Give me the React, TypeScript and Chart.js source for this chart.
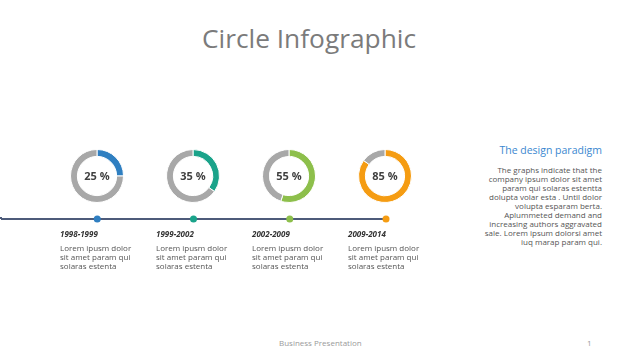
import React, { useEffect, useRef } from "react";
import { Chart, registerables } from "chart.js";

Chart.register(...registerables);

const periods = ["1998-1999", "1999-2002", "2002-2009", "2009-2014"];
const percents = [25, 35, 55, 85];
const descriptions = [
  ["Lorem ipusm dolor", "sit amet param qui", "solaras estenta"],
  ["Lorem ipusm dolor", "sit amet param qui", "solaras estenta"],
  ["Lorem ipusm dolor", "sit amet param qui", "solaras estenta"],
  ["Lorem ipusm dolor", "sit amet param qui", "solaras estenta"],
];
const timelineLabels = ["", ...periods];
const timelineValues = [1, 1, 1, 1, 1];
const sideTitle = "The design paradigm";
const sideLines = [
  "The graphs indicate that the",
  "company ipsum dolor sit amet",
  "param qui solaras estentta",
  "dolupta volar esta . Until dolor",
  "volupta esparam berta.",
  "Aplummeted demand and",
  "increasing authors aggravated",
  "sale. Lorem ipsum dolorsi amet",
  "iuq marap param qui.",
];

const accentColors = ["#2f7fc1", "#1aa38a", "#8dbf4b", "#f59c12"];
const restColor = "#a8a8a8";
const FONT = "'Open Sans', 'DejaVu Sans', sans-serif";

const centerTextPlugin = {
  id: "centerText",
  afterDraw(chart: any) {
    const meta = chart.getDatasetMeta(0);
    const arc = meta.data[0];
    if (!arc) return;
    const { x, y } = arc;
    const v = chart.data.datasets[0].data[0];
    const ctx = chart.ctx;
    ctx.save();
    ctx.font = `bold 11px ${FONT}`;
    ctx.fillStyle = "#404040";
    ctx.textAlign = "center";
    ctx.textBaseline = "middle";
    ctx.fillText(`${v} %`, x, y + 1);
    ctx.restore();
  },
};

function Donut({ value, color, left, top, size }: any) {
  const ref = useRef<HTMLCanvasElement>(null);
  useEffect(() => {
    const chart = new Chart(ref.current!, {
      type: "doughnut",
      data: {
        labels: ["value", "rest"],
        datasets: [
          {
            data: [value, 100 - value],
            backgroundColor: [color, restColor],
            borderWidth: 1,
            borderColor: "#ffffff",
          },
        ],
      },
      options: {
        responsive: false,
        animation: false,
        cutout: "74%",
        layout: { padding: 0 },
        plugins: { legend: { display: false }, tooltip: { enabled: false } },
        events: [],
      },
      plugins: [centerTextPlugin],
    });
    return () => chart.destroy();
  }, [value, color]);
  return (
    <canvas
      ref={ref}
      width={size}
      height={size}
      style={{ position: "absolute", left, top, width: size, height: size }}
    />
  );
}

function Timeline() {
  const ref = useRef<HTMLCanvasElement>(null);
  useEffect(() => {
    const chart = new Chart(ref.current!, {
      type: "line",
      data: {
        labels: timelineLabels,
        datasets: [
          {
            data: timelineValues,
            borderColor: "#4d5b7a",
            borderWidth: 2,
            pointRadius: [0, 3.5, 3.5, 3.5, 3.5],
            pointBackgroundColor: ["#4d5b7a", ...accentColors],
            pointBorderWidth: 0,
            clip: false as any,
          },
        ],
      },
      options: {
        responsive: false,
        animation: false,
        layout: { autoPadding: false, padding: { left: 0, right: 6, top: 0, bottom: 0 } },
        scales: {
          x: { display: false, offset: false },
          y: { display: false, min: 0, max: 2 },
        },
        plugins: { legend: { display: false }, tooltip: { enabled: false } },
        events: [],
      },
    });
    return () => chart.destroy();
  }, []);
  return (
    <canvas
      ref={ref}
      width={391}
      height={20}
      style={{ position: "absolute", left: 1, top: 209, width: 391, height: 20 }}
    />
  );
}

export default function App() {
  const centers = [97, 193, 289, 385];
  const size = 54;
  return (
    <div
      style={{
        position: "fixed",
        left: 0,
        top: 0,
        width: 640,
        height: 360,
        background: "#ffffff",
        fontFamily: FONT,
        overflow: "hidden",
      }}
    >
      <div
        style={{
          position: "absolute",
          left: 0,
          width: 618,
          top: 20,
          textAlign: "center",
          fontSize: 26.3,
          color: "#7b7b7b",
          lineHeight: "36px",
        }}
      >
        Circle Infographic
      </div>

      {percents.map((p, i) => (
        <Donut
          key={i}
          value={p}
          color={accentColors[i]}
          left={centers[i] - size / 2}
          top={149}
          size={size}
        />
      ))}

      <div style={{ position: "absolute", left: 0, top: 217, width: 2, height: 2, background: "#4d5b7a" }} />
      <Timeline />

      {periods.map((p, i) => (
        <div key={p} style={{ position: "absolute", left: centers[i] - 37, top: 228 }}>
          <div
            style={{
              fontSize: 8,
              fontWeight: "bold",
              fontStyle: "italic",
              color: "#333333",
              lineHeight: "12px",
            }}
          >
            {p}
          </div>
          <div style={{ marginTop: 3, fontSize: 8, color: "#555555", lineHeight: "9px" }}>
            {descriptions[i].map((l, j) => (
              <div key={j}>{l}</div>
            ))}
          </div>
        </div>
      ))}

      <div
        style={{
          position: "absolute",
          right: 38,
          top: 142,
          textAlign: "right",
          width: 140,
        }}
      >
        <div style={{ fontSize: 10.5, color: "#3a87d0", lineHeight: "16px" }}>{sideTitle}</div>
        <div style={{ marginTop: 7, fontSize: 8, color: "#555555", lineHeight: "9px" }}>
          {sideLines.map((l, j) => (
            <div key={j}>{l}</div>
          ))}
        </div>
      </div>

      <div
        style={{
          position: "absolute",
          left: 279,
          top: 337,
          fontSize: 8,
          color: "#9a9a9a",
          lineHeight: "12px",
        }}
      >
        Business Presentation
      </div>
      <div
        style={{
          position: "absolute",
          left: 587,
          top: 337,
          fontSize: 8,
          color: "#9a9a9a",
          lineHeight: "12px",
        }}
      >
        1
      </div>
    </div>
  );
}
